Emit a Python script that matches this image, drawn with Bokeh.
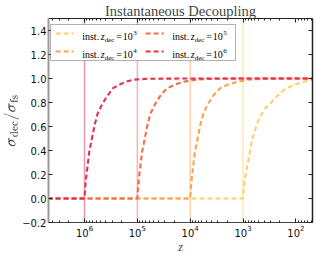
from bokeh.plotting import figure
from bokeh.models import (Range1d, LinearAxis, LogAxis, FixedTicker, Span, Label,
                          BoxAnnotation, Arrow, CustomJSTickFormatter, LogTickFormatter)
from bokeh.embed import file_html
from bokeh.resources import INLINE

# ---------------- data ----------------
z_dec_values = [1e3, 1e4, 1e5, 1e6]
z_dec_exps = ["3", "4", "5", "6"]
curve_colors = ["#fdd06c", "#fca24e", "#f46c4b", "#e3304f"]

z_1e3 = [5e6, 1000, 982, 916, 826, 759, 686, 594, 490, 385, 309, 231, 162, 105, 63, 40]
r_1e3 = [0.0, 0.0, 0.06, 0.17, 0.28, 0.36, 0.475, 0.57, 0.67, 0.75, 0.79, 0.85, 0.91, 0.95, 0.98, 0.99]

z_1e4 = [5e6, 10000, 9770, 9330, 8710, 8130, 7240, 6460, 5620, 4570, 3630, 3160, 2690, 1910, 1260, 794, 398, 100, 40]
r_1e4 = [0.0, 0.0, 0.07, 0.17, 0.28, 0.39, 0.50, 0.61, 0.71, 0.79, 0.86, 0.89, 0.92, 0.95, 0.975, 0.99, 0.997, 1.0, 1.0]

z_1e5 = [5e6, 100000, 97700, 93300, 87100, 81300, 72400, 64600, 56200, 45700, 36300, 31600, 26900, 19100, 12600, 7940, 3980, 1000, 40]
r_1e5 = [0.0, 0.0, 0.07, 0.17, 0.28, 0.39, 0.50, 0.61, 0.71, 0.79, 0.86, 0.89, 0.92, 0.95, 0.975, 0.99, 0.997, 1.0, 1.0]

z_1e6 = [5e6, 1000000, 977000, 933000, 871000, 813000, 724000, 646000, 562000, 457000, 363000, 288000, 214000, 162000, 120000, 63000, 10000, 40]
r_1e6 = [0.0, 0.0, 0.07, 0.17, 0.28, 0.39, 0.50, 0.61, 0.71, 0.79, 0.86, 0.92, 0.95, 0.975, 0.99, 0.998, 1.0, 1.0]

curves_z = [z_1e3, z_1e4, z_1e5, z_1e6]
curves_r = [r_1e3, r_1e4, r_1e5, r_1e6]

y_ticks = [-0.2, 0.0, 0.2, 0.4, 0.6, 0.8, 1.0, 1.2, 1.4]
x_major = [1e2, 1e3, 1e4, 1e5, 1e6]

# ---------------- figure ----------------
serif = "Liberation Serif"
W, H = 316, 256

p = figure(width=W, height=H, output_backend="svg", toolbar_location=None,
           x_axis_type="log", x_range=Range1d(4.8e6, 48.5), y_range=Range1d(-0.2, 1.5),
           min_border_left=48, min_border_right=4, min_border_top=16, min_border_bottom=34,
           x_axis_location=None, y_axis_location=None,
           title="Instantaneous Decoupling")
p.title.text_font = serif
p.title.text_font_size = "14.5px"
p.title.text_font_style = "normal"
p.title.text_line_height = 0.9
p.title.align = "center"
p.title.standoff = 0
p.title.offset = 0
p.outline_line_color = None
p.xgrid.visible = False
p.ygrid.visible = False
p.background_fill_color = "white"
p.border_fill_color = "white"

x_minor = [m * d for d in [1e1, 1e2, 1e3, 1e4, 1e5, 1e6] for m in range(2, 10)]
xt = FixedTicker(ticks=x_major, minor_ticks=x_minor)
yt = FixedTicker(ticks=y_ticks)

yfmt = CustomJSTickFormatter(code="return (tick < -1e-9 ? '\u2212' : '') + Math.abs(tick).toFixed(1);")

def style_axis(ax, line_color, line_width, labels):
    ax.axis_line_color = line_color
    ax.axis_line_width = line_width
    ax.major_tick_in = 4
    ax.major_tick_out = 0
    ax.minor_tick_in = 2
    ax.minor_tick_out = 0
    ax.major_tick_line_color = "#222222"
    ax.minor_tick_line_color = "#222222"
    ax.major_label_text_font = "DejaVu Sans"
    ax.major_label_text_font_size = "10px"
    ax.major_label_text_color = "#111111"
    if not labels:
        ax.major_label_text_font_size = "0px"
        ax.major_label_text_alpha = 0
        ax.major_label_standoff = 0

bottom = LogAxis(ticker=xt, formatter=LogTickFormatter(), axis_label="z")
style_axis(bottom, "#444444", 1, True)
bottom.major_label_standoff = 2
bottom.axis_label_standoff = 0
bottom.axis_label_text_font = serif
bottom.axis_label_text_font_style = "italic"
bottom.axis_label_text_font_size = "12px"
top = LogAxis(ticker=xt, formatter=LogTickFormatter())
style_axis(top, "#222222", 1, False)
left = LinearAxis(ticker=yt, formatter=yfmt,
                  axis_label=r"$$\sigma_{\mathrm{dec}}/\sigma_{\mathrm{fs}}$$")
style_axis(left, "#9a9a9a", 2, True)
left.major_label_standoff = 2
left.axis_label_standoff = 0
left.axis_label_text_font_size = "12.5px"
left.minor_tick_line_color = None
right = LinearAxis(ticker=yt, formatter=yfmt)
style_axis(right, "#222222", 1.5, False)
right.minor_tick_line_color = None
p.add_layout(bottom, "below")
p.add_layout(top, "above")
p.add_layout(left, "left")
p.add_layout(right, "right")

# vertical decoupling lines
for zd, c in zip(z_dec_values, curve_colors):
    p.add_layout(Span(location=zd, dimension="height", line_color=c, line_alpha=0.5,
                      line_width=1.5, level="underlay"))

# curves
for zs, rs, c in zip(curves_z, curves_r, curve_colors):
    p.line(zs, rs, line_color=c, line_width=2.1, line_dash="5 3")

# ---------------- legend (manual, to keep sub/superscripts) ----------------
p.add_layout(BoxAnnotation(left=2, right=187, top=1.45, bottom=1.15,
                           left_units="screen", right_units="screen",
                           top_units="data", bottom_units="data",
                           fill_color="white", fill_alpha=1.0,
                           line_color="black", line_width=1, level="overlay"))
row_line_y = [1.375, 1.225]
row_base_y = [1.346, 1.196]
col_line_x = [(3.52e6, 1.61e6), (69700, 31800)]
col_text_x = [33.7, 123.7]
slots = [(0, 0), (0, 1), (1, 0), (1, 1)]
for (ci, ri), c, e in zip(slots, curve_colors, z_dec_exps):
    x0, x1 = col_line_x[ci]
    p.add_layout(Arrow(end=None, x_start=x0, y_start=row_line_y[ri], x_end=x1, y_end=row_line_y[ri],
                       line_color=c, line_width=2.1, line_dash="5 3", level="overlay"))
    xt0 = col_text_x[ci]
    base = row_base_y[ri]
    pieces = [
        ("inst.", xt0, base, "10px", "normal"),
        ("z", xt0 + 18.5, base, "10px", "italic"),
        ("dec", xt0 + 22.5, base - 0.021, "7px", "normal"),
        ("=", xt0 + 34, base, "10px", "normal"),
        ("10", xt0 + 40.5, base, "10px", "normal"),
        (e, xt0 + 51, base + 0.033, "7px", "normal"),
    ]
    for t, x, y, fs, st in pieces:
        p.add_layout(Label(x=x, y=y, x_units="screen", y_units="data", text=t,
                           text_font=serif, text_font_size=fs, text_font_style=st,
                           text_align="left", text_baseline="alphabetic",
                           text_color="black", level="overlay"))

open("out.html", "w").write(file_html(p, INLINE))
